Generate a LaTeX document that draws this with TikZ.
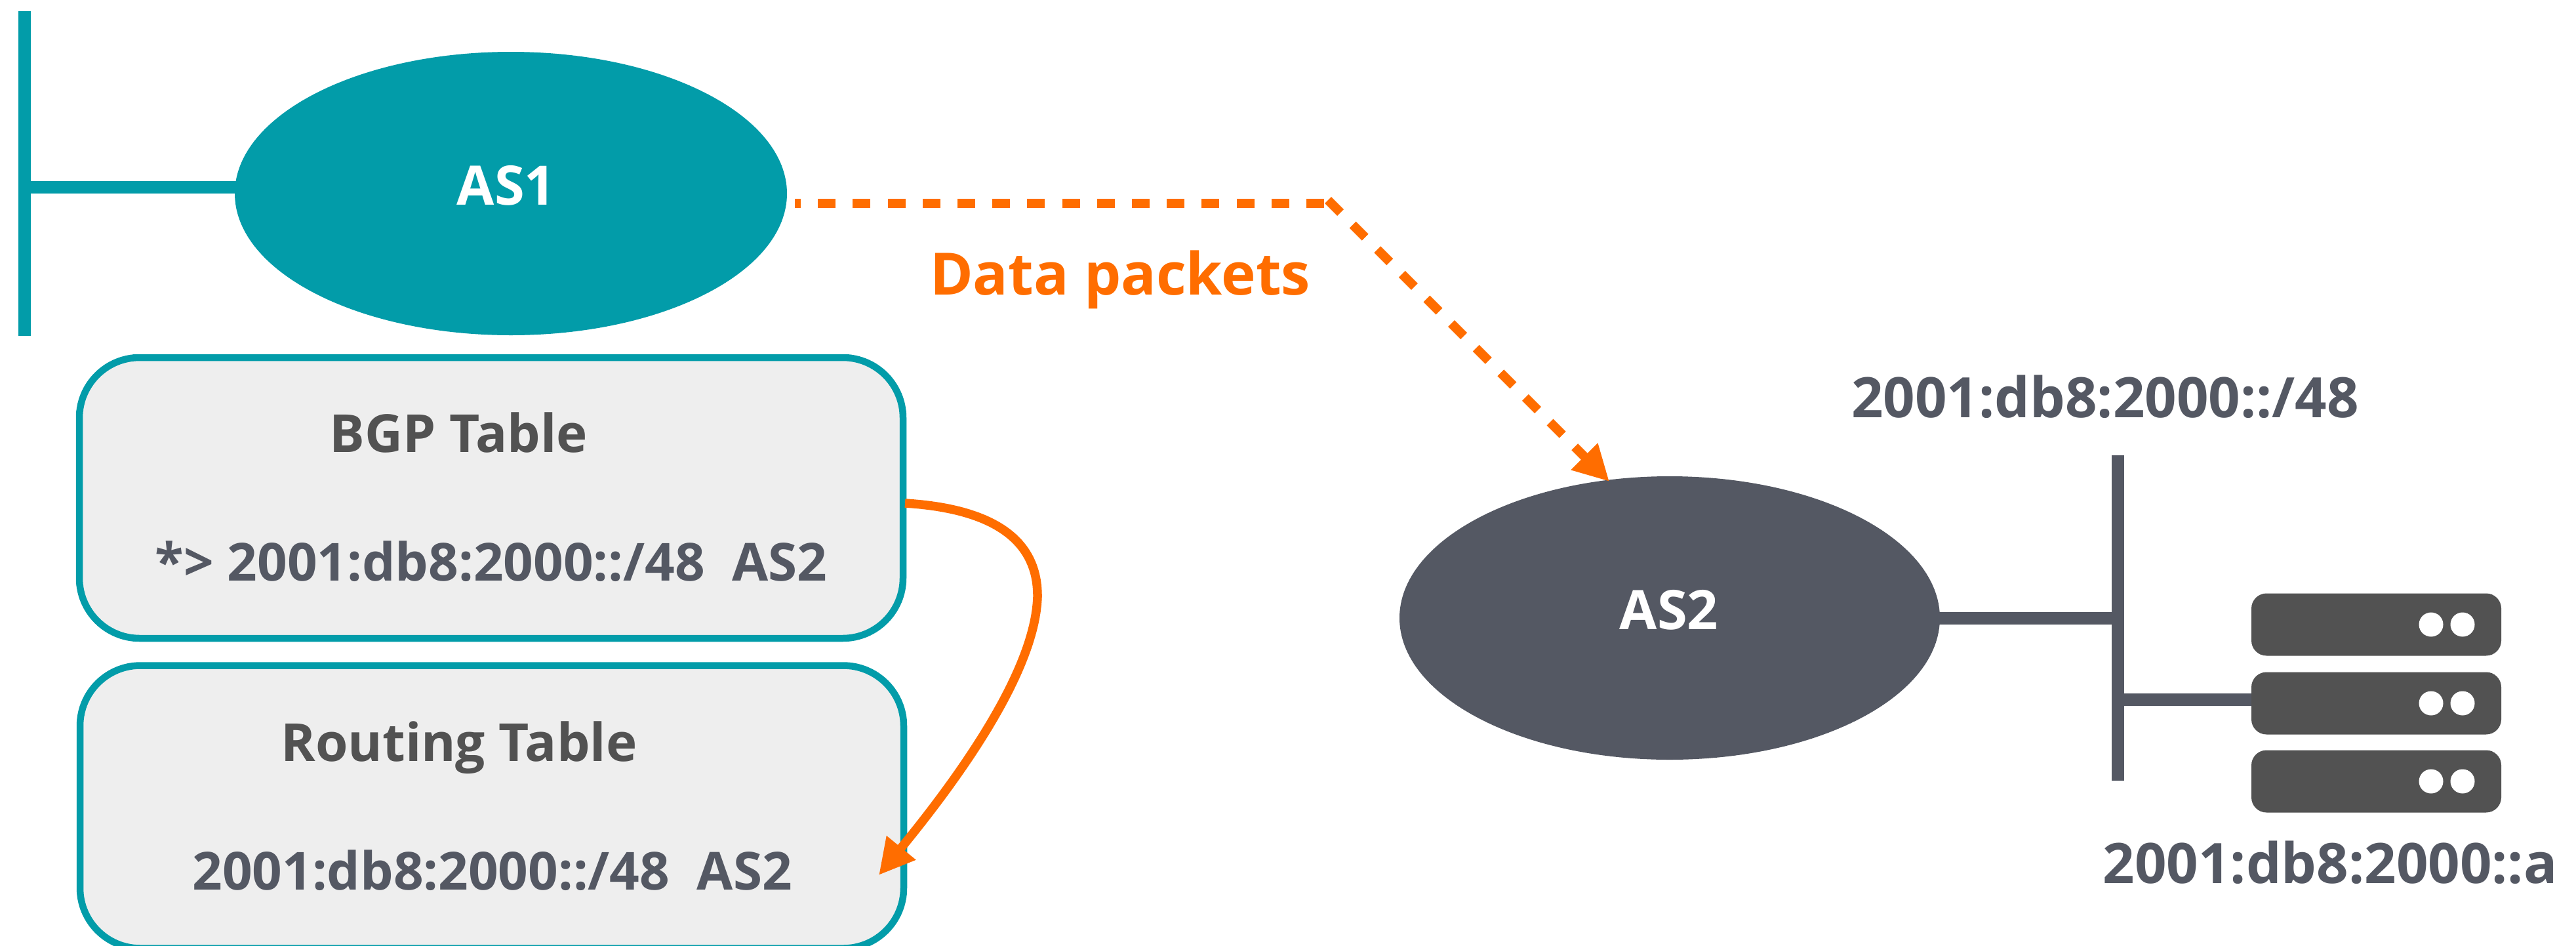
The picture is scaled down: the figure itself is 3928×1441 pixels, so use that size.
\documentclass[tikz,border=0pt]{standalone}
\usepackage{fontspec}
\setmainfont{Open Sans}
\usetikzlibrary{shapes.geometric,arrows.meta}
\definecolor{teal1}{HTML}{029CA9}
\definecolor{slate1}{HTML}{545863}
\definecolor{orange1}{HTML}{FF6D00}
\definecolor{server1}{HTML}{525252}
\definecolor{panel1}{HTML}{EEEEEE}
\tikzset{
  lbl/.style={anchor=base,inner sep=0,font=\fontsize{83}{100}\selectfont\bfseries,text=slate1},
  tbltext/.style={lbl,font=\fontsize{80}{96}\selectfont\bfseries},
  tbltitle/.style={tbltext,text=server1},
  addr/.style={lbl,font=\fontsize{85}{102}\selectfont\bfseries},
  cloud1/.style={ellipse,inner sep=0,outer sep=0,minimum width=842pt,minimum height=432pt,draw=none,fill=teal1},
  cloud2/.style={ellipse,inner sep=0,outer sep=0,minimum width=824pt,minimum height=432pt,draw=none,fill=slate1},
  tablebox/.style={rectangle,rounded corners=92pt,draw=teal1,line width=10.5pt,fill=panel1,inner sep=0,minimum width=1256pt},
  bar/.style={rectangle,inner sep=0,outer sep=0,draw=none,minimum width=19pt},
  srv/.style={rectangle,rounded corners=23pt,fill=server1,draw=none,inner sep=0,outer sep=0,minimum width=381pt,minimum height=95pt},
  led/.style={circle,fill=white,draw=none,inner sep=0,outer sep=0,minimum size=37pt},
  pkt/.style={draw=orange1,line width=14pt,dash pattern=on 27pt off 26.2pt},
  head/.style={-{Triangle[length=54pt,width=54pt]}},
}
\begin{document}
\begin{tikzpicture}[x=1pt,y=-1pt]
\useasboundingbox (0,0) rectangle (3928,1441);
% left network
\node[bar,fill=teal1,minimum height=495pt] (leftbar) at (37.5,264.5) {};
\coordinate (as1tap) at (400,285.5);
\draw[teal1,line width=19pt] (leftbar.center |- as1tap) -- (as1tap);
\node[cloud1] (as1) at (779,295) {};
\node[lbl,text=white] (as1label) at (772,312) {AS1};
% tables
\node[tablebox,minimum height=428pt] (bgp) at (749,759) {};
\node[tablebox,minimum height=431pt] (rib) at (750,1230) {};
\node[tbltitle] (bgptitle) at (699.5,689) {BGP Table};
\node[tbltext] (bgpentry) at (749,885) {*> 2001:db8:2000::/48\ \ AS2};
\node[tbltitle] (ribtitle) at (700,1160) {Routing Table};
\node[tbltext] (ribentry) at (750.5,1356) {2001:db8:2000::/48\ \ AS2};
% right network
\node[bar,fill=slate1,minimum height=496pt] (rightbar) at (3229.5,942) {};
\coordinate (as2tap) at (2900,942.5);
\coordinate (srvtap) at (3450,1066.5);
\draw[slate1,line width=19pt] (as2tap) -- (rightbar.center |- as2tap);
\draw[slate1,line width=19pt] (rightbar.center |- srvtap) -- (srvtap);
\node[cloud2] (as2) at (2546,942) {};
\node[lbl,text=white] (as2label) at (2545,959) {AS2};
\node[srv] (srv1) at (3623.5,952) {};
\node[srv] (srv2) at (3623.5,1072) {};
\node[srv] (srv3) at (3623.5,1191) {};
\foreach \s in {1,2,3}{
  \node[led] (led\s a) at ([xshift=83.5pt]srv\s.center) {};
  \node[led] (led\s b) at ([xshift=131.5pt]srv\s.center) {};
}
\node[addr] (prefix) at (3210,636) {2001:db8:2000::/48};
\node[addr] (host) at (3553,1346) {2001:db8:2000::a};
% data path
\coordinate (dstart) at (1212,310);
\coordinate (dcorner) at (2020,310);
\coordinate (dbend) at (2025,305);
\coordinate (as2top) at (2454,734);
\draw[pkt,dash phase=18pt] (dstart) -- (dcorner);
\draw[pkt,head] (dbend) -- (as2top);
\node[lbl,text=orange1,font=\fontsize{89}{107}\selectfont\bfseries] (datalabel) at (1708,449) {Data packets};
% table copy
\coordinate (bgpout) at (1380,767);
\coordinate (ribin) at (1340,1334);
\draw[orange1,line width=13.5pt,head] (bgpout) .. controls (1510,775) and (1583,820) .. (1582,910)
  .. controls (1578,1030) and (1450,1200) .. (ribin);
\end{tikzpicture}
\end{document}
